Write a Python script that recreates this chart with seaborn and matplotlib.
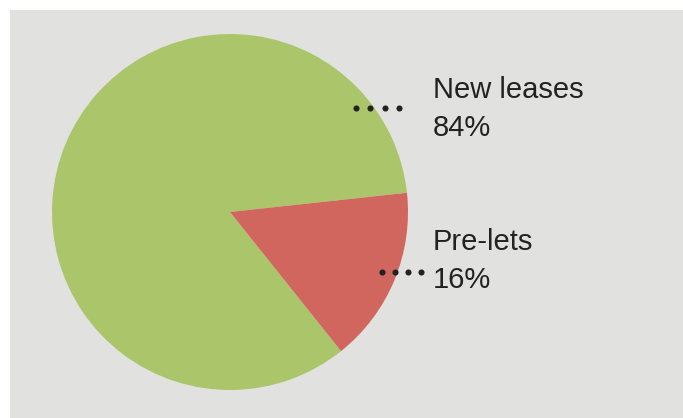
import matplotlib
matplotlib.use("Agg")
import matplotlib.pyplot as plt
import seaborn as sns
from matplotlib.patches import Rectangle

sns.set_theme(style="white")
plt.rcParams['font.family'] = ['Liberation Sans', 'DejaVu Sans']

categories = ["New leases", "Pre-lets"]
values = [84, 16]
pct_labels = ["84%", "16%"]
colors = ["#abc56b", "#d1665f"]
bg = "#e1e1df"

W, H = 683, 418
fig = plt.figure(figsize=(W / 100, H / 100), dpi=100)
fig.patch.set_facecolor("white")
ax = fig.add_axes([0, 0, 1, 1])

# grey panel
ax.add_patch(Rectangle((10, 0), W - 10, H - 10, facecolor=bg, edgecolor="none", zorder=0))

cx, cy, r = 230, H - 212, 178
ax.pie(values, colors=colors, startangle=6.2, counterclock=True,
       center=(cx, cy), radius=r, frame=True,
       wedgeprops=dict(linewidth=0, edgecolor="none"))
ax.set_xlim(0, W)
ax.set_ylim(0, H)
ax.set_aspect("equal")
ax.axis("off")

# labels: (text x, first baseline in pixels from top, dot start x, dot end x, dot y)
label_pos = [(433, 98, 356, 399, 108), (433, 250, 382, 421, 272)]
for (name, pct, (tx, base, dx0, dx1, dy)) in zip(categories, pct_labels, label_pos):
    ax.text(tx, H - base, name, fontsize=21, color="#222222", ha="left", va="baseline")
    ax.text(tx, H - base - 38, pct, fontsize=21, color="#222222", ha="left", va="baseline")
    xs = [dx0 + (dx1 - dx0) * i / 3 for i in range(4)]
    ax.plot(xs, [H - dy] * 4, "o", color="#222222", markersize=4.4, markeredgewidth=0)

fig.savefig("out.png", dpi=100, facecolor=fig.get_facecolor())
